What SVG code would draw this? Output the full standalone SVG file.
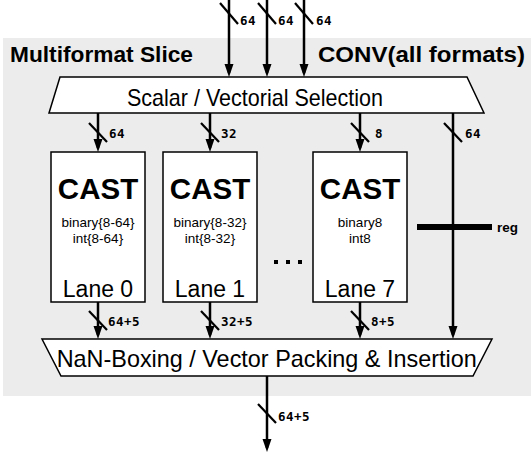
<svg xmlns="http://www.w3.org/2000/svg" width="531" height="456" viewBox="0 0 531 456">
<style>
.bg{fill:#ececec}
.shape{fill:#fff;stroke:#000;stroke-width:1.5}
.wire{stroke:#000;stroke-width:2.5;fill:none}
.arr{marker-end:url(#ah)}
.slash{stroke:#000;stroke-width:2.2}
.bw{font-family:"DejaVu Sans Mono","Liberation Mono",monospace;font-weight:bold;font-size:12.5px;letter-spacing:0.5px;fill:#000}
.title{font-family:"Liberation Sans",Arial,sans-serif;font-weight:bold;font-size:22.5px;fill:#000}
.big{font-family:"Liberation Sans",Arial,sans-serif;font-size:24px;fill:#000;text-anchor:middle}
.cast{font-family:"Liberation Sans",Arial,sans-serif;font-weight:bold;font-size:29.5px;fill:#000;text-anchor:middle}
.fmt{font-family:"Liberation Sans",Arial,sans-serif;font-size:13.5px;fill:#000;text-anchor:middle}
.lane{font-family:"Liberation Sans",Arial,sans-serif;font-size:23px;fill:#000;text-anchor:middle}
.reg{font-family:"Liberation Sans",Arial,sans-serif;font-weight:bold;font-size:13.5px;fill:#000}
</style>
<defs>
<marker id="ah" markerUnits="userSpaceOnUse" markerWidth="14" markerHeight="10" refX="9" refY="4.5" orient="auto">
<path d="M0,0 L13,4.5 L0,9 z" fill="#000"/>
</marker>
</defs>
<rect class="bg" x="3" y="38" width="528" height="358"/>
<text class="title" x="10" y="62" textLength="183" lengthAdjust="spacingAndGlyphs">Multiformat Slice</text>
<text class="title" x="318" y="62" textLength="207" lengthAdjust="spacingAndGlyphs">CONV(all formats)</text>

<g id="connectors">
<line class="wire arr" x1="229" y1="0" x2="229" y2="73"/>
<line class="wire arr" x1="267" y1="0" x2="267" y2="73"/>
<line class="wire arr" x1="304" y1="0" x2="304" y2="73"/>
<line class="slash" x1="220" y1="3" x2="238" y2="24"/>
<line class="slash" x1="258" y1="3" x2="276" y2="24"/>
<line class="slash" x1="295" y1="3" x2="313" y2="24"/>
<text class="bw" x="240" y="25">64</text>
<text class="bw" x="278" y="25">64</text>
<text class="bw" x="316" y="25">64</text>

<line class="wire arr" x1="98" y1="113" x2="98" y2="148"/>
<line class="wire arr" x1="210" y1="113" x2="210" y2="148"/>
<line class="wire arr" x1="360" y1="113" x2="360" y2="148"/>
<line class="wire arr" x1="453" y1="113" x2="453" y2="335"/>
<line class="slash" x1="89" y1="123" x2="107" y2="142"/>
<line class="slash" x1="201" y1="123" x2="219" y2="142"/>
<line class="slash" x1="351" y1="123" x2="369" y2="142"/>
<line class="slash" x1="444" y1="123" x2="462" y2="142"/>
<text class="bw" x="109" y="138">64</text>
<text class="bw" x="221" y="138">32</text>
<text class="bw" x="375" y="138">8</text>
<text class="bw" x="465" y="138">64</text>

<line class="wire arr" x1="98" y1="302" x2="98" y2="335"/>
<line class="wire arr" x1="210" y1="302" x2="210" y2="335"/>
<line class="wire arr" x1="360" y1="302" x2="360" y2="335"/>
<line class="slash" x1="89" y1="311" x2="107" y2="330"/>
<line class="slash" x1="201" y1="311" x2="219" y2="330"/>
<line class="slash" x1="351" y1="311" x2="369" y2="330"/>
<text class="bw" x="108" y="326">64+5</text>
<text class="bw" x="221" y="326">32+5</text>
<text class="bw" x="371" y="326">8+5</text>

<line class="wire arr" x1="267" y1="376" x2="267" y2="448"/>
<line class="slash" x1="258" y1="404" x2="276" y2="423"/>
<text class="bw" x="278" y="421">64+5</text>
</g>

<g id="selection">
<polygon class="shape" points="60,77 467,77 484,113 49,113"/>
<text class="big" x="255" y="106" textLength="256" lengthAdjust="spacingAndGlyphs">Scalar / Vectorial Selection</text>
</g>

<g id="lane0">
<rect class="shape" x="51" y="152" width="94" height="150"/>
<text class="cast" x="98" y="199">CAST</text>
<text class="fmt" x="98" y="227">binary{8-64}</text>
<text class="fmt" x="98" y="243">int{8-64}</text>
<text class="lane" x="98" y="297">Lane 0</text>
</g>

<g id="lane1">
<rect class="shape" x="163" y="152" width="94" height="150"/>
<text class="cast" x="210" y="199">CAST</text>
<text class="fmt" x="210" y="227">binary{8-32}</text>
<text class="fmt" x="210" y="243">int{8-32}</text>
<text class="lane" x="210" y="297">Lane 1</text>
</g>

<g id="dots">
<rect x="274" y="260" width="4" height="4" fill="#000"/>
<rect x="286" y="260" width="4" height="4" fill="#000"/>
<rect x="298" y="260" width="4" height="4" fill="#000"/>
</g>

<g id="lane7">
<rect class="shape" x="313" y="152" width="94" height="150"/>
<text class="cast" x="360" y="199">CAST</text>
<text class="fmt" x="360" y="227">binary8</text>
<text class="fmt" x="360" y="243">int8</text>
<text class="lane" x="360" y="297">Lane 7</text>
</g>

<g id="reg">
<rect x="417" y="224" width="75" height="6" fill="#000"/>
<text class="reg" x="497" y="232">reg</text>
</g>

<g id="packing">
<polygon class="shape" points="42,339 492,339 473,376 61,376"/>
<text class="big" x="266.7" y="367" textLength="420" lengthAdjust="spacingAndGlyphs">NaN-Boxing / Vector Packing &amp; Insertion</text>
</g>
</svg>
